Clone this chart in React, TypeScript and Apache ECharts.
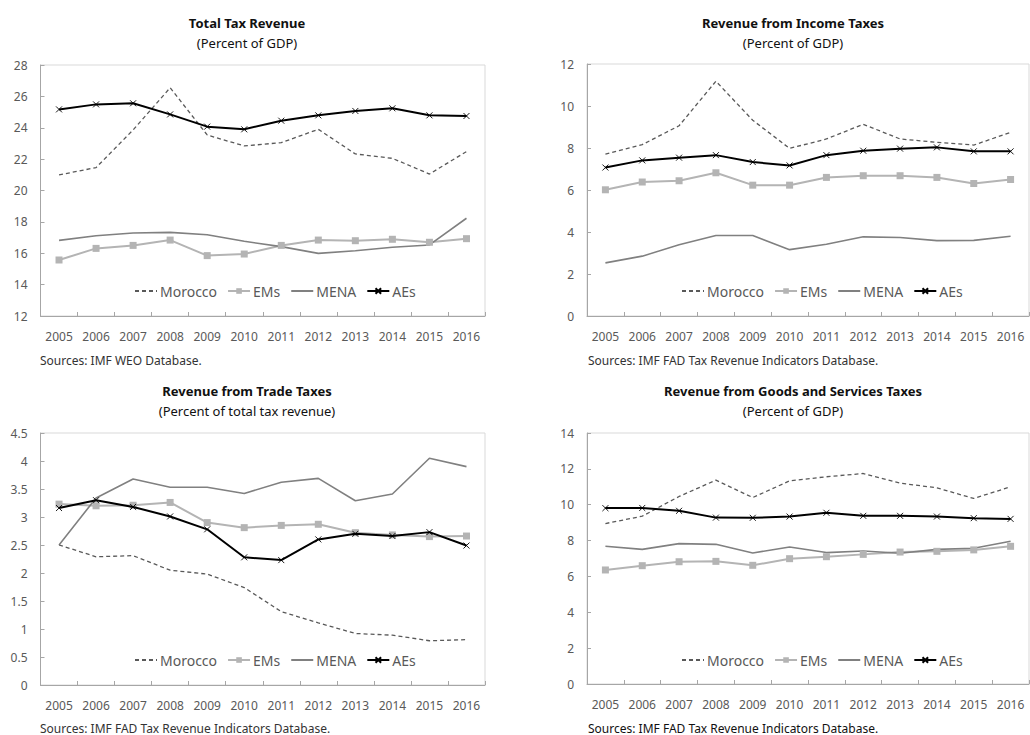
import React, { useEffect, useRef } from "react";
import * as echarts from "echarts";

const years = ["2005", "2006", "2007", "2008", "2009", "2010", "2011", "2012", "2013", "2014", "2015", "2016"];
const seriesNames = ["Morocco", "EMs", "MENA", "AEs"];

// Panel 1: Total Tax Revenue (Percent of GDP)
const totalMorocco = [20.99, 21.46, 23.86, 26.55, 23.54, 22.84, 23.05, 23.9, 22.33, 22.05, 21.05, 22.48];
const totalEMs = [15.57, 16.31, 16.5, 16.84, 15.85, 15.95, 16.5, 16.84, 16.8, 16.89, 16.7, 16.93];
const totalMENA = [16.82, 17.12, 17.29, 17.33, 17.18, 16.76, 16.42, 15.99, 16.16, 16.38, 16.53, 18.23];
const totalAEs = [25.17, 25.49, 25.56, 24.85, 24.07, 23.9, 24.45, 24.79, 25.07, 25.24, 24.79, 24.75];

// Panel 2: Revenue from Income Taxes (Percent of GDP)
const incomeMorocco = [7.71, 8.16, 9.06, 11.18, 9.32, 7.98, 8.43, 9.13, 8.43, 8.27, 8.14, 8.74];
const incomeEMs = [6.01, 6.38, 6.44, 6.82, 6.23, 6.23, 6.6, 6.68, 6.68, 6.6, 6.31, 6.5];
const incomeMENA = [2.53, 2.85, 3.39, 3.83, 3.83, 3.16, 3.42, 3.77, 3.74, 3.59, 3.6, 3.8];
const incomeAEs = [7.07, 7.41, 7.54, 7.66, 7.33, 7.17, 7.66, 7.87, 7.97, 8.03, 7.84, 7.84];

// Panel 3: Revenue from Trade Taxes (Percent of total tax revenue)
const tradeMorocco = [2.5, 2.29, 2.31, 2.05, 1.98, 1.74, 1.31, 1.11, 0.92, 0.89, 0.79, 0.81];
const tradeEMs = [3.23, 3.2, 3.21, 3.26, 2.9, 2.81, 2.85, 2.87, 2.72, 2.68, 2.65, 2.66];
const tradeMENA = [2.5, 3.34, 3.68, 3.53, 3.53, 3.42, 3.62, 3.69, 3.29, 3.41, 4.05, 3.9];
const tradeAEs = [3.16, 3.3, 3.18, 3.01, 2.78, 2.28, 2.23, 2.6, 2.7, 2.66, 2.73, 2.49];

// Panel 4: Revenue from Goods and Services Taxes (Percent of GDP)
const goodsMorocco = [8.95, 9.36, 10.46, 11.37, 10.4, 11.33, 11.56, 11.74, 11.2, 10.94, 10.35, 11.0];
const goodsEMs = [6.36, 6.6, 6.82, 6.84, 6.62, 6.99, 7.1, 7.23, 7.36, 7.4, 7.48, 7.68];
const goodsMENA = [7.68, 7.51, 7.83, 7.79, 7.31, 7.64, 7.33, 7.42, 7.29, 7.51, 7.57, 7.96];
const goodsAEs = [9.81, 9.82, 9.66, 9.28, 9.27, 9.34, 9.55, 9.38, 9.38, 9.34, 9.25, 9.21];

const titles = ["Total Tax Revenue", "Revenue from Income Taxes", "Revenue from Trade Taxes", "Revenue from Goods and Services Taxes"];
const subtitles = ["(Percent of GDP)", "(Percent of GDP)", "(Percent of total tax revenue)", "(Percent of GDP)"];
const sources = [
  "Sources: IMF WEO Database.",
  "Sources: IMF FAD Tax Revenue Indicators Database.",
  "Sources: IMF FAD Tax Revenue Indicators Database.",
  "Sources: IMF FAD Tax Revenue Indicators Database.",
];
const yMin = [12, 0, 0, 0];
const yMax = [28, 12, 4.5, 14];
const yInterval = [2, 2, 0.5, 2];

const panelData = [
  [totalMorocco, totalEMs, totalMENA, totalAEs],
  [incomeMorocco, incomeEMs, incomeMENA, incomeAEs],
  [tradeMorocco, tradeEMs, tradeMENA, tradeAEs],
  [goodsMorocco, goodsEMs, goodsMENA, goodsAEs],
];

const FONT = "'Noto Sans', sans-serif";
const crossPath = "path://M0,0L10,10M10,0L0,10";

const grids = [
  { left: 40.5, top: 65, width: 444.5, height: 251 },
  { left: 587, top: 64, width: 442, height: 252 },
  { left: 40.5, top: 433, width: 444.5, height: 252 },
  { left: 587, top: 433, width: 442, height: 251 },
];
const titlePos = [
  { x: 247, y: 23 },
  { x: 793, y: 23 },
  { x: 247, y: 391 },
  { x: 793, y: 391 },
];
const sourcePos = [
  { x: 40, y: 360 },
  { x: 588, y: 360 },
  { x: 40, y: 728 },
  { x: 588, y: 728 },
];
const legendPos = [
  { left: 129, top: 279 },
  { left: 676, top: 279 },
  { left: 129, top: 648 },
  { left: 676, top: 648 },
];

function seriesStyle(name: string) {
  switch (name) {
    case "Morocco":
      return { color: "#595959", lineStyle: { color: "#595959", width: 1.3, type: [4, 3] }, symbol: "none" };
    case "EMs":
      return {
        color: "#b4b4b4",
        lineStyle: { color: "#b4b4b4", width: 2 },
        symbol: "rect",
        symbolSize: 7,
        itemStyle: { color: "#b4b4b4" },
      };
    case "MENA":
      return { color: "#808080", lineStyle: { color: "#808080", width: 1.6 }, symbol: "none" };
    default:
      return {
        color: "#000000",
        lineStyle: { color: "#000000", width: 2 },
        symbol: crossPath,
        symbolSize: 6,
        itemStyle: { color: "#000000", borderColor: "#000000", borderWidth: 0.9 },
      };
  }
}

export default function App() {
  const ref = useRef<HTMLDivElement>(null);
  useEffect(() => {
    document.body.style.margin = "0";
    if (!ref.current) return;
    const chart = echarts.init(ref.current, undefined, { renderer: "svg" });

    const series: any[] = [];
    panelData.forEach((arrs, p) => {
      arrs.forEach((vals, i) => {
        const name = seriesNames[i];
        series.push({
          type: "line",
          name,
          xAxisIndex: p,
          yAxisIndex: p,
          data: vals,
          showSymbol: name === "EMs" || name === "AEs",
          z: name === "AEs" ? 5 : name === "Morocco" ? 4 : 3,
          ...seriesStyle(name),
        });
      });
    });

    const graphic: any[] = [];
    titles.forEach((t, p) => {
      graphic.push({
        type: "text",
        x: titlePos[p].x,
        y: titlePos[p].y,
        style: { text: t, font: `bold 13px ${FONT}`, fill: "#111", align: "center", verticalAlign: "middle" },
      });
      graphic.push({
        type: "text",
        x: titlePos[p].x,
        y: titlePos[p].y + 20,
        style: { text: subtitles[p], font: `13px ${FONT}`, fill: "#111", align: "center", verticalAlign: "middle" },
      });
      graphic.push({
        type: "text",
        x: sourcePos[p].x,
        y: sourcePos[p].y,
        style: {
          text: sources[p],
          font: `12px ${FONT}`,
          fill: p === 3 ? "#111" : "#333",
          align: "left",
          verticalAlign: "middle",
        },
      });
    });

    const legendData = seriesNames.map((n) =>
      n === "Morocco" || n === "MENA" ? { name: n, itemStyle: { opacity: 0 } } : { name: n }
    );

    chart.setOption({
      animation: false,
      backgroundColor: "#ffffff",
      grid: grids.map((g) => ({ ...g, show: true, borderColor: "#d9d9d9", borderWidth: 1, containLabel: false })),
      xAxis: grids.map((_, p) => ({
        type: "category",
        gridIndex: p,
        data: years,
        boundaryGap: true,
        axisLine: { show: true, lineStyle: { color: "#a6a6a6", width: 1 } },
        axisTick: { show: true, inside: true, length: 4, lineStyle: { color: "#a6a6a6" } },
        axisLabel: { color: "#595959", fontSize: 12, fontFamily: FONT, margin: 14, interval: 0 },
        splitLine: { show: false },
      })),
      yAxis: grids.map((_, p) => ({
        type: "value",
        gridIndex: p,
        min: yMin[p],
        max: yMax[p],
        interval: yInterval[p],
        axisLine: { show: true, lineStyle: { color: "#a6a6a6", width: 1 } },
        axisTick: { show: true, inside: true, length: 4, lineStyle: { color: "#a6a6a6" } },
        axisLabel: { color: "#595959", fontSize: 12, fontFamily: FONT, margin: 13 },
        splitLine: { show: false },
      })),
      legend: legendPos.map((l) => ({
        left: l.left,
        top: l.top,
        orient: "horizontal",
        data: legendData,
        itemWidth: 22,
        itemHeight: 7,
        itemGap: 10,
        selectedMode: false,
        textStyle: { color: "#595959", fontSize: 14, fontFamily: FONT, padding: [0, 0, 0, -2] },
      })),
      series,
      graphic,
    });
    return () => chart.dispose();
  }, []);
  return <div ref={ref} style={{ width: 1030, height: 735 }} />;
}
